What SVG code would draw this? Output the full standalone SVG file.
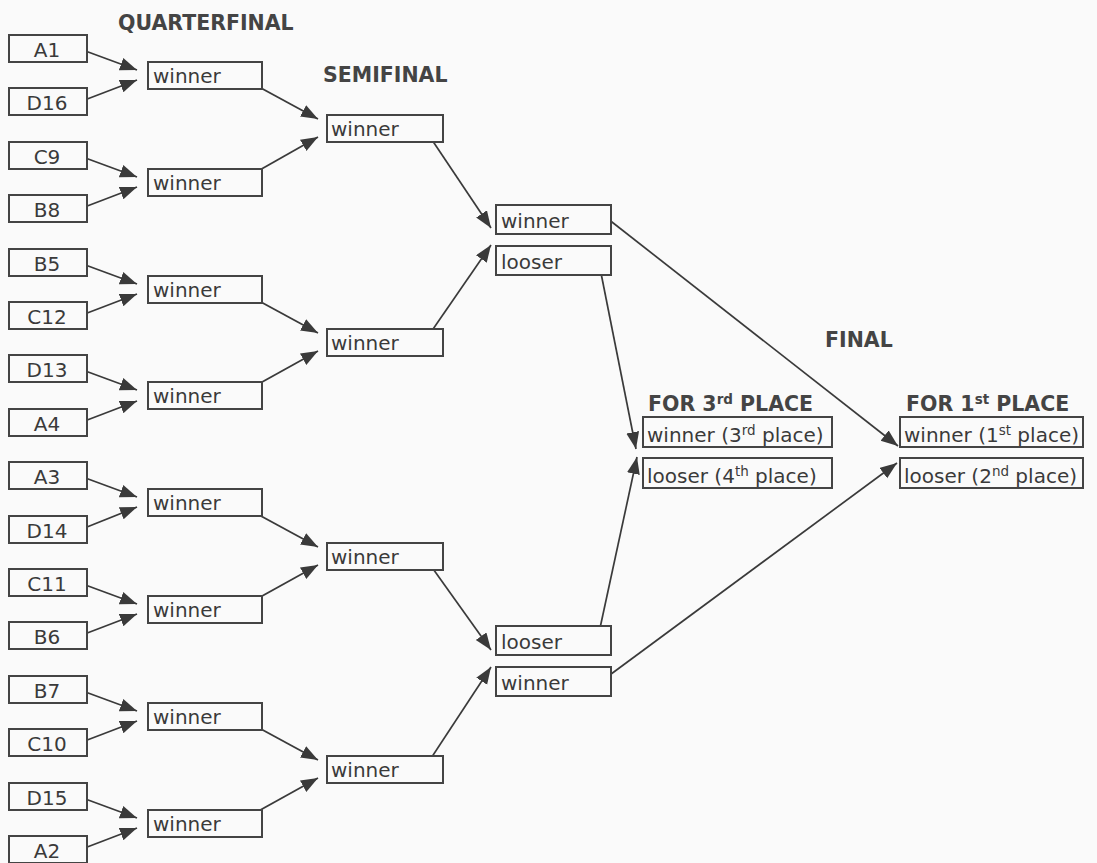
<svg xmlns="http://www.w3.org/2000/svg" width="1097" height="863" viewBox="0 0 1097 863">
<style>
.bg{fill:#fafafa}
.box{fill:#fafafa;stroke:#444;stroke-width:2}
.t{font-family:"DejaVu Sans",Verdana,sans-serif;font-size:20px;fill:#3a3a3a}
.c{text-anchor:middle}
.h{font-family:"DejaVu Sans",Verdana,sans-serif;font-size:20.5px;font-weight:bold;fill:#444}
.sup{font-size:13.5px}
.ln{stroke:#3a3a3a;stroke-width:1.7;fill:none;marker-end:url(#ah)}
</style>
<defs>
<marker id="ah" markerUnits="userSpaceOnUse" markerWidth="18" markerHeight="14" refX="17" refY="6.5" orient="auto">
<path d="M0,0 L17,6.5 L0,13 z" fill="#3a3a3a"/>
</marker>
</defs>
<rect class="bg" x="0" y="0" width="1097" height="863"/>
<g id="titles">
<text class="h" x="118" y="30">QUARTERFINAL</text>
<text class="h" x="323" y="82">SEMIFINAL</text>
<text class="h" x="825" y="347">FINAL</text>
<text class="h" x="648" y="411">FOR 3<tspan class="sup" dy="-7">rd</tspan><tspan dy="7"> PLACE</tspan></text>
<text class="h" x="906" y="411">FOR 1<tspan class="sup" dy="-7">st</tspan><tspan dy="7"> PLACE</tspan></text>
</g>
<g id="connectors">
<path class="ln" d="M80,49 L137,70"/><path class="ln" d="M82,101 L137,80"/>
<path class="ln" d="M80,156 L137,177"/><path class="ln" d="M82,208 L137,187"/>
<path class="ln" d="M80,263 L137,284"/><path class="ln" d="M82,315 L137,294"/>
<path class="ln" d="M80,369 L137,390"/><path class="ln" d="M82,422 L137,401"/>
<path class="ln" d="M80,476 L137,497"/><path class="ln" d="M82,529 L137,507"/>
<path class="ln" d="M80,583 L137,604"/><path class="ln" d="M82,635 L137,614"/>
<path class="ln" d="M80,690 L137,711"/><path class="ln" d="M82,742 L137,721"/>
<path class="ln" d="M80,797 L137,818"/><path class="ln" d="M82,849 L137,828"/>
<path class="ln" d="M237,75 L318,119"/><path class="ln" d="M237,183 L318,137"/>
<path class="ln" d="M237,289 L318,333"/><path class="ln" d="M237,396 L318,351"/>
<path class="ln" d="M237,503 L318,547"/><path class="ln" d="M237,610 L318,565"/>
<path class="ln" d="M237,716 L318,760"/><path class="ln" d="M237,823 L318,778"/>
<path class="ln" d="M422,125 L491,228"/><path class="ln" d="M420,348 L491,245"/>
<path class="ln" d="M421,552 L491,650"/><path class="ln" d="M420,775 L491,667"/>
<path class="ln" d="M603,215 L898,446"/><path class="ln" d="M598,258 L636,449"/>
<path class="ln" d="M597,642 L637,457"/><path class="ln" d="M603,680 L897,463"/>
</g>
<g id="n-A1"><rect class="box" x="9" y="35" width="78" height="27"/><text class="t c" x="47" y="57">A1</text></g>
<g id="n-D16"><rect class="box" x="9" y="88" width="78" height="27"/><text class="t c" x="47" y="110">D16</text></g>
<g id="n-C9"><rect class="box" x="9" y="142" width="78" height="27"/><text class="t c" x="47" y="164">C9</text></g>
<g id="n-B8"><rect class="box" x="9" y="195" width="78" height="27"/><text class="t c" x="47" y="217">B8</text></g>
<g id="n-B5"><rect class="box" x="9" y="249" width="78" height="27"/><text class="t c" x="47" y="271">B5</text></g>
<g id="n-C12"><rect class="box" x="9" y="302" width="78" height="27"/><text class="t c" x="47" y="324">C12</text></g>
<g id="n-D13"><rect class="box" x="9" y="355" width="78" height="27"/><text class="t c" x="47" y="377">D13</text></g>
<g id="n-A4"><rect class="box" x="9" y="409" width="78" height="27"/><text class="t c" x="47" y="431">A4</text></g>
<g id="n-A3"><rect class="box" x="9" y="462" width="78" height="27"/><text class="t c" x="47" y="484">A3</text></g>
<g id="n-D14"><rect class="box" x="9" y="516" width="78" height="27"/><text class="t c" x="47" y="538">D14</text></g>
<g id="n-C11"><rect class="box" x="9" y="569" width="78" height="27"/><text class="t c" x="47" y="591">C11</text></g>
<g id="n-B6"><rect class="box" x="9" y="622" width="78" height="27"/><text class="t c" x="47" y="644">B6</text></g>
<g id="n-B7"><rect class="box" x="9" y="676" width="78" height="27"/><text class="t c" x="47" y="698">B7</text></g>
<g id="n-C10"><rect class="box" x="9" y="729" width="78" height="27"/><text class="t c" x="47" y="751">C10</text></g>
<g id="n-D15"><rect class="box" x="9" y="783" width="78" height="27"/><text class="t c" x="47" y="805">D15</text></g>
<g id="n-A2"><rect class="box" x="9" y="836" width="78" height="27"/><text class="t c" x="47" y="858">A2</text></g>
<g id="qf1"><rect class="box" x="148" y="62" width="114" height="27"/><text class="t" x="153" y="83">winner</text></g>
<g id="qf2"><rect class="box" x="148" y="169" width="114" height="27"/><text class="t" x="153" y="190">winner</text></g>
<g id="qf3"><rect class="box" x="148" y="276" width="114" height="27"/><text class="t" x="153" y="297">winner</text></g>
<g id="qf4"><rect class="box" x="148" y="382" width="114" height="27"/><text class="t" x="153" y="403">winner</text></g>
<g id="qf5"><rect class="box" x="148" y="489" width="114" height="27"/><text class="t" x="153" y="510">winner</text></g>
<g id="qf6"><rect class="box" x="148" y="596" width="114" height="27"/><text class="t" x="153" y="617">winner</text></g>
<g id="qf7"><rect class="box" x="148" y="703" width="114" height="27"/><text class="t" x="153" y="724">winner</text></g>
<g id="qf8"><rect class="box" x="148" y="810" width="114" height="27"/><text class="t" x="153" y="831">winner</text></g>
<g id="sf1"><rect class="box" x="327" y="115" width="116" height="27"/><text class="t" x="331" y="136">winner</text></g>
<g id="sf2"><rect class="box" x="327" y="329" width="116" height="27"/><text class="t" x="331" y="350">winner</text></g>
<g id="sf3"><rect class="box" x="327" y="543" width="116" height="27"/><text class="t" x="331" y="564">winner</text></g>
<g id="sf4"><rect class="box" x="327" y="756" width="116" height="27"/><text class="t" x="331" y="777">winner</text></g>
<g id="f-w1"><rect class="box" x="496" y="205" width="115" height="29"/><text class="t" x="501" y="228">winner</text></g>
<g id="f-l1"><rect class="box" x="496" y="246" width="115" height="29"/><text class="t" x="501" y="269">looser</text></g>
<g id="f-l2"><rect class="box" x="496" y="626" width="115" height="29"/><text class="t" x="501" y="649">looser</text></g>
<g id="f-w2"><rect class="box" x="496" y="667" width="115" height="29"/><text class="t" x="501" y="690">winner</text></g>
<g id="p3"><rect class="box" x="643" y="417" width="189" height="30"/><text class="t" x="647" y="442">winner (3<tspan class="sup" dy="-7">rd</tspan><tspan dy="7"> place)</tspan></text></g>
<g id="p4"><rect class="box" x="643" y="458" width="189" height="30"/><text class="t" x="647" y="483">looser (4<tspan class="sup" dy="-7">th</tspan><tspan dy="7"> place)</tspan></text></g>
<g id="p1"><rect class="box" x="900" y="417" width="183" height="30"/><text class="t" x="904" y="442">winner (1<tspan class="sup" dy="-7">st</tspan><tspan dy="7"> place)</tspan></text></g>
<g id="p2"><rect class="box" x="900" y="458" width="183" height="30"/><text class="t" x="904" y="483">looser (2<tspan class="sup" dy="-7">nd</tspan><tspan dy="7"> place)</tspan></text></g>
</svg>
